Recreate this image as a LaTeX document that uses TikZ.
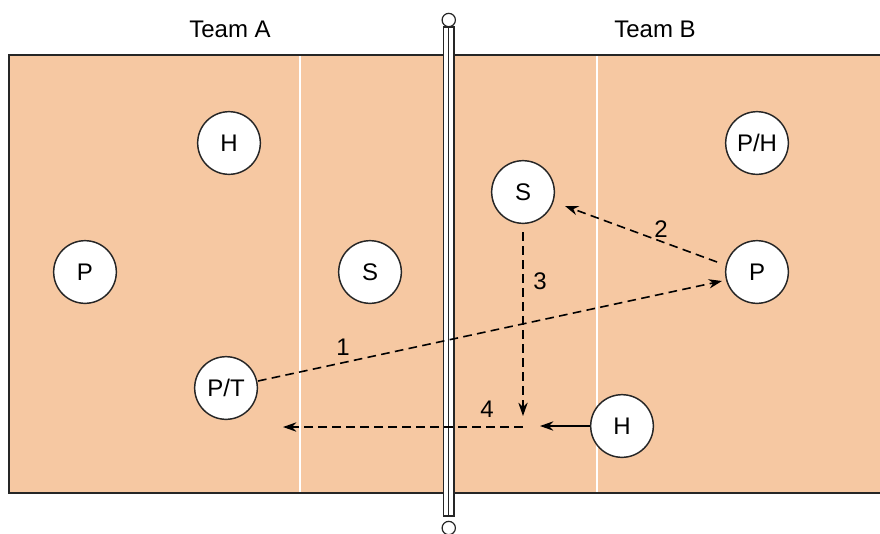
\documentclass[tikz,border=0pt]{standalone}
\usepackage{fontspec}
\setmainfont{Liberation Sans}
\usetikzlibrary{arrows.meta}
\definecolor{court}{RGB}{246,200,162}
\tikzset{
  player/.style={circle,draw=black!85,fill=white,line width=1.1pt,minimum size=47pt,inner sep=0pt,font=\fontsize{18}{20}\selectfont},
  pass/.style={dashed,dash pattern=on 6.5pt off 4pt,line width=1.2pt,-{Stealth[length=10pt,width=7pt]}},
  move/.style={line width=1.2pt,-{Stealth[length=10pt,width=7pt]}},
  lbl/.style={font=\fontsize{18}{20}\selectfont},
  team/.style={font=\fontsize{18}{20}\selectfont},
  courtline/.style={white,line width=1.5pt}
}
\begin{document}
\begin{tikzpicture}[x=0.75pt,y=-0.75pt]
\useasboundingbox (0,0) rectangle (880,533);
% court
\fill[court] (9,55) rectangle (880,493);
\draw[black!85,line width=1.3pt] (880,55) -- (9,55) -- (9,493) -- (880,493);
\draw[courtline] (300,56) -- (300,492);
\draw[courtline] (597,56) -- (597,492);
% net
\draw[black!85,fill=white,line width=0.9pt] (443.5,27) rectangle (454,516);
\draw[black!85,line width=0.9pt] (448.75,27) -- (448.75,516);
\node[circle,draw=black!85,fill=white,line width=0.9pt,minimum size=10pt,inner sep=0pt] (ntop) at (448.75,20) {};
\node[circle,draw=black!85,fill=white,line width=0.9pt,minimum size=10pt,inner sep=0pt] (nbot) at (448.75,528) {};
% titles
\node[team] (ta) at (230,29) {Team A};
\node[team] (tb) at (655,29) {Team B};
% players team A
\node[player] (aH) at (229,143) {H};
\node[player] (aP) at (85,272) {P};
\node[player] (aS) at (370,272) {S};
\node[player] (aPT) at (226,388) {P/T};
% players team B
\node[player] (bS) at (523,192) {S};
\node[player] (bPH) at (757,143) {P/H};
\node[player] (bP) at (757,272) {P};
\node[player] (bH) at (622,426) {H};
% connectors
\coordinate (c3) at (523,416);
\coordinate (c4s) at (523,427);
\coordinate (c4e) at (283,427);
\coordinate (hend) at (540,426);
\coordinate (p1s) at (258,381);
\coordinate (p1e) at (722,281);
\coordinate (p2s) at (717,262);
\coordinate (p2e) at (565,206);
\draw[pass] (p1s) -- (p1e);
\draw[pass] (p2s) -- (p2e);
\draw[pass] (bS.south) ++(0,8) -- (c3);
\draw[pass] (c4s) -- (c4e);
\draw[move] (bH.west) -- (hend);
% labels
\node[lbl] (l1) at (343,347) {1};
\node[lbl] (l2) at (661,229) {2};
\node[lbl] (l3) at (540,281) {3};
\node[lbl] (l4) at (487,409) {4};
\end{tikzpicture}
\end{document}
